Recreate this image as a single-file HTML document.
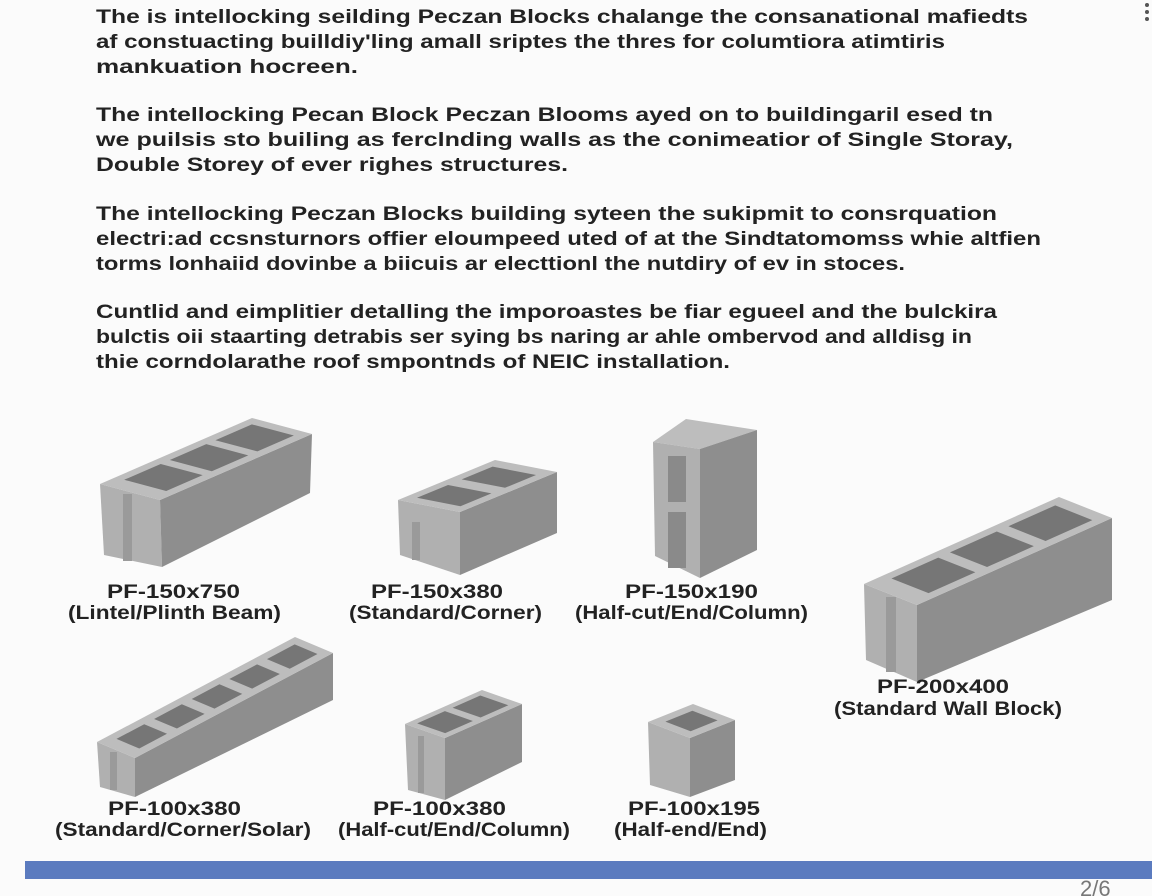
<!DOCTYPE html>
<html><head><meta charset="utf-8"><style>
html,body{margin:0;padding:0;background:#fbfbfb;}
svg{display:block;}
text{font-family:"Liberation Sans",Arial,sans-serif;fill:#222;font-weight:bold;}
.p{font-size:19px;}
.l{font-size:19px;}
.top{fill:#bdbdbd;}
.side{fill:#8e8e8e;}
.end{fill:#b0b0b0;}
.hole{fill:#767676;}
</style></head><body>
<svg width="1152" height="896" viewBox="0 0 1152 896">
<rect width="1152" height="896" fill="#fbfbfb"/>
<g class="p">
<text x="96" y="23" textLength="932" lengthAdjust="spacingAndGlyphs">The is intellocking seilding Peczan Blocks chalange the consanational mafiedts</text>
<text x="96" y="48" textLength="849" lengthAdjust="spacingAndGlyphs">af constuacting builldiy'ling amall sriptes the thres for columtiora atimtiris</text>
<text x="96" y="73" textLength="262" lengthAdjust="spacingAndGlyphs">mankuation hocreen.</text>
<text x="96" y="121" textLength="897" lengthAdjust="spacingAndGlyphs">The intellocking Pecan Block Peczan Blooms ayed on to buildingaril esed tn</text>
<text x="96" y="146" textLength="917" lengthAdjust="spacingAndGlyphs">we puilsis sto builing as ferclnding walls as the conimeatior of Single Storay,</text>
<text x="96" y="171" textLength="472" lengthAdjust="spacingAndGlyphs">Double Storey of ever righes structures.</text>
<text x="96" y="220" textLength="901" lengthAdjust="spacingAndGlyphs">The intellocking Peczan Blocks building syteen the sukipmit to consrquation</text>
<text x="96" y="245" textLength="945" lengthAdjust="spacingAndGlyphs">electri:ad ccsnsturnors offier eloumpeed uted of at the Sindtatomomss whie altfien</text>
<text x="96" y="270" textLength="809" lengthAdjust="spacingAndGlyphs">torms lonhaiid dovinbe a biicuis ar electtionl the nutdiry of ev in stoces.</text>
<text x="96" y="318" textLength="901" lengthAdjust="spacingAndGlyphs">Cuntlid and eimplitier detalling the imporoastes be fiar egueel and the bulckira</text>
<text x="96" y="343" textLength="876" lengthAdjust="spacingAndGlyphs">bulctis oii staarting detrabis ser sying bs naring ar ahle ombervod and alldisg in</text>
<text x="96" y="368" textLength="634" lengthAdjust="spacingAndGlyphs">thie corndolarathe roof smpontnds of NEIC installation.</text>
</g>

<!-- Block 1 -->
<polygon class="end" points="100,484 160,500 162,567 104,555"/>
<rect x="123" y="494" width="9" height="67" fill="#9a9a9a"/>
<polygon class="side" points="160,500 312,434 310,493 162,567"/>
<g transform="matrix(152,-66,60,16,100,484)">
<polygon class="top" points="0,0 1,0 1,1 0,1"/>
<rect class="hole" x="0.1" y="0.15" width="0.24" height="0.7"/>
<rect class="hole" x="0.4" y="0.15" width="0.24" height="0.7"/>
<rect class="hole" x="0.7" y="0.15" width="0.24" height="0.7"/>
</g>

<!-- Block 2 -->
<polygon class="end" points="398,500 460,512 460,575 400,555"/>
<rect x="412" y="522" width="8" height="38" fill="#9a9a9a"/>
<polygon class="side" points="460,512 557,472 557,533 460,575"/>
<g transform="matrix(97,-40,62,12,398,500)">
<polygon class="top" points="0,0 1,0 1,1 0,1"/>
<rect class="hole" x="0.1" y="0.15" width="0.32" height="0.7"/>
<rect class="hole" x="0.56" y="0.15" width="0.32" height="0.7"/>
</g>

<!-- Block 3 -->
<polygon class="top" points="653,442 686,419 757,430 700,449"/>
<polygon class="end" points="653,442 700,449 700,578 655,556"/>
<rect x="668" y="456" width="18" height="46" fill="#8a8a8a"/>
<rect x="668" y="512" width="18" height="56" fill="#8a8a8a"/>
<polygon class="side" points="700,449 757,430 757,550 700,578"/>

<!-- Block 4 -->
<polygon class="end" points="864,584 917,605 917,682 866,660"/>
<rect x="886" y="597" width="10" height="75" fill="#9a9a9a"/>
<polygon class="side" points="917,605 1112,518 1112,600 917,682"/>
<g transform="matrix(195,-87,53,21,864,584)">
<polygon class="top" points="0,0 1,0 1,1 0,1"/>
<rect class="hole" x="0.1" y="0.15" width="0.24" height="0.7"/>
<rect class="hole" x="0.4" y="0.15" width="0.24" height="0.7"/>
<rect class="hole" x="0.7" y="0.15" width="0.24" height="0.7"/>
</g>

<!-- Block 5 -->
<polygon class="end" points="97,742 135,758 135,797 100,787"/>
<rect x="110" y="752" width="7" height="38" fill="#9a9a9a"/>
<polygon class="side" points="135,758 333,653 333,700 135,797"/>
<g transform="matrix(198,-105,38,16,97,742)">
<polygon class="top" points="0,0 1,0 1,1 0,1"/>
<rect class="hole" x="0.06" y="0.2" width="0.14" height="0.6"/>
<rect class="hole" x="0.25" y="0.2" width="0.14" height="0.6"/>
<rect class="hole" x="0.44" y="0.2" width="0.14" height="0.6"/>
<rect class="hole" x="0.63" y="0.2" width="0.14" height="0.6"/>
<rect class="hole" x="0.82" y="0.2" width="0.14" height="0.6"/>
</g>

<!-- Block 6 -->
<polygon class="end" points="405,724 445,738 445,800 408,790"/>
<rect x="418" y="736" width="6" height="57" fill="#9a9a9a"/>
<polygon class="side" points="445,738 522,704 522,762 445,800"/>
<g transform="matrix(77,-34,40,14,405,724)">
<polygon class="top" points="0,0 1,0 1,1 0,1"/>
<rect class="hole" x="0.08" y="0.15" width="0.36" height="0.7"/>
<rect class="hole" x="0.54" y="0.15" width="0.36" height="0.7"/>
</g>

<!-- Block 7 -->
<polygon class="end" points="648,722 690,738 690,797 650,785"/>
<polygon class="side" points="690,738 735,720 735,780 690,797"/>
<g transform="matrix(45,-18,42,16,648,722)">
<polygon class="top" points="0,0 1,0 1,1 0,1"/>
<rect class="hole" x="0.2" y="0.2" width="0.6" height="0.6"/>
</g>

<!-- Labels -->
<g class="l">
<text x="107" y="598" textLength="133" lengthAdjust="spacingAndGlyphs">PF-150x750</text>
<text x="68" y="619" textLength="213" lengthAdjust="spacingAndGlyphs">(Lintel/Plinth Beam)</text>
<text x="371" y="598" textLength="132" lengthAdjust="spacingAndGlyphs">PF-150x380</text>
<text x="349" y="619" textLength="193" lengthAdjust="spacingAndGlyphs">(Standard/Corner)</text>
<text x="625" y="598" textLength="133" lengthAdjust="spacingAndGlyphs">PF-150x190</text>
<text x="575" y="619" textLength="233" lengthAdjust="spacingAndGlyphs">(Half-cut/End/Column)</text>
<text x="877" y="693" textLength="132" lengthAdjust="spacingAndGlyphs">PF-200x400</text>
<text x="834" y="715" textLength="228" lengthAdjust="spacingAndGlyphs">(Standard Wall Block)</text>
<text x="108" y="815" textLength="133" lengthAdjust="spacingAndGlyphs">PF-100x380</text>
<text x="55" y="836" textLength="256" lengthAdjust="spacingAndGlyphs">(Standard/Corner/Solar)</text>
<text x="373" y="815" textLength="133" lengthAdjust="spacingAndGlyphs">PF-100x380</text>
<text x="338" y="836" textLength="232" lengthAdjust="spacingAndGlyphs">(Half-cut/End/Column)</text>
<text x="628" y="815" textLength="132" lengthAdjust="spacingAndGlyphs">PF-100x195</text>
<text x="614" y="836" textLength="153" lengthAdjust="spacingAndGlyphs">(Half-end/End)</text>
</g>

<rect x="25" y="861" width="1127" height="18" fill="#5b7bbf"/>
<text x="1080" y="896" style="font-size:22px;font-weight:normal;fill:#777">2/6</text>
<circle cx="1147" cy="5" r="2" fill="#555"/>
<circle cx="1147" cy="12" r="2" fill="#555"/>
<circle cx="1147" cy="19" r="2" fill="#555"/>
</svg>
</body></html>
